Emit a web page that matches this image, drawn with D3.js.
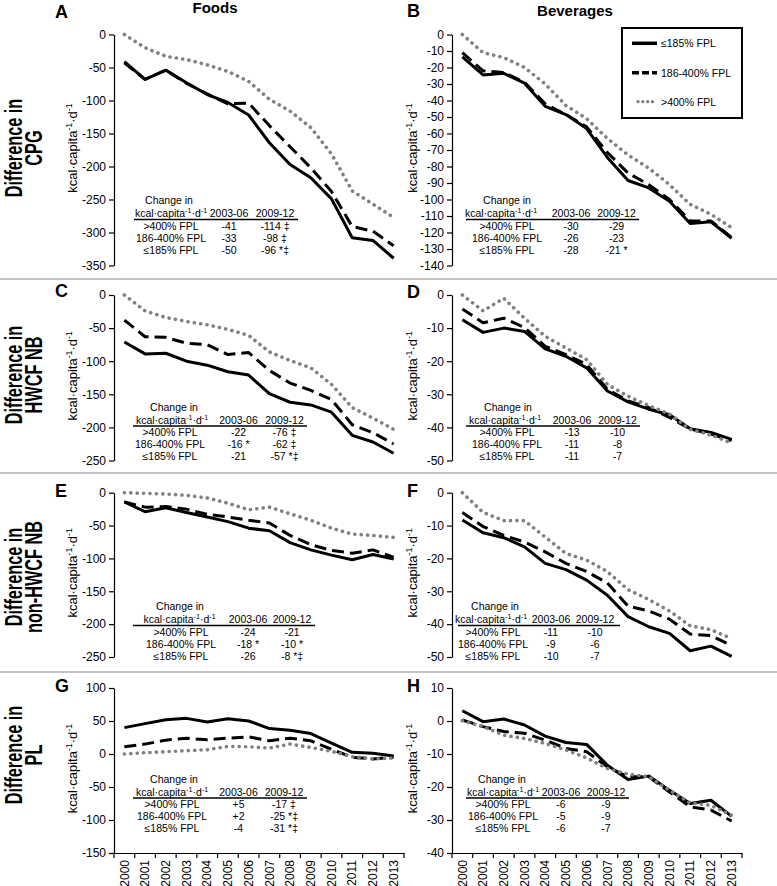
<!DOCTYPE html>
<html><head><meta charset="utf-8">
<script src="https://cdn.jsdelivr.net/npm/d3@7"></script>
<style>
body{margin:0;background:#fff}
svg{display:block}
text{font-family:"Liberation Sans",Arial,sans-serif;fill:#000}
</style>
</head><body>
<svg id="chart" width="777" height="886"></svg>
<script>
// ---------------- DATA ----------------
const years = [2000,2001,2002,2003,2004,2005,2006,2007,2008,2009,2010,2011,2012,2013];
const seriesNames = ["≤185% FPL","186-400% FPL",">400% FPL"];
const columnTitles = ["Foods","Beverages"];
const rowTitles = [["Difference in","CPG"],["Difference in","HWCF NB"],["Difference in","non-HWCF NB"],["Difference in","PL"]];
const panelLetters = ["A","B","C","D","E","F","G","H"];

// A: Foods, CPG
const foodsCpgLow  = [-41,-68,-54,-73,-91,-103,-122,-164,-197,-217,-249,-308,-312,-339];
const foodsCpgMid  = [-43,-68,-54,-74,-90,-105,-104,-138,-170,-202,-238,-291,-298,-320];
const foodsCpgHigh = [0,-20,-33,-38,-46,-56,-71,-98,-116,-141,-181,-237,-257,-277];
// B: Beverages, CPG
const bevCpgLow  = [-13.5,-24.5,-23.5,-29.5,-43.5,-48.5,-57,-74.5,-88.5,-93,-101,-114.5,-113.5,-123.5];
const bevCpgMid  = [-11,-22,-23,-29,-42,-48.5,-56,-71.5,-84,-91,-100,-113,-113,-123];
const bevCpgHigh = [0,-11,-14,-20,-30,-43,-51,-63,-73,-81,-91,-103,-109,-117];
// C: Foods, HWCF NB
const foodsHwLow  = [-71,-89,-88,-100,-106,-116,-121,-149,-162,-166,-177,-212,-222,-239];
const foodsHwMid  = [-38,-63,-64,-73,-75,-90,-87,-114,-133,-144,-158,-196,-208,-225];
const foodsHwHigh = [0,-24,-34,-40,-45,-52,-61,-86,-99,-110,-135,-170,-186,-203];
// D: Beverages, HWCF NB
const bevHwLow  = [-7.5,-11.3,-10,-11,-16.3,-18.5,-22,-29,-32.3,-34.5,-36.2,-40.4,-41.5,-43.6];
const bevHwMid  = [-4.2,-8.4,-7,-9.8,-15.5,-18,-21,-28.5,-32,-34,-37,-40.5,-42,-44];
const bevHwHigh = [0,-4.8,-1,-7,-12.5,-16,-19.5,-27,-30.6,-33.4,-36,-40.6,-42.3,-44.7];
// E: Foods, non-HWCF NB
const foodsNonLow  = [-14,-29,-23,-30,-37,-44,-54,-58,-76,-87,-95,-102,-94,-101];
const foodsNonMid  = [-14,-22,-21,-25,-33,-37,-42,-46,-65,-79,-88,-92,-87,-98];
const foodsNonHigh = [0,-1,-2,-4,-8,-16,-26,-22,-32,-42,-54,-63,-65,-68];
// F: Beverages, non-HWCF NB
const bevNonLow  = [-8.3,-12.2,-13.7,-16.5,-21.5,-23.4,-26.6,-31.2,-37.7,-40.8,-42.8,-48.1,-46.7,-49.8];
const bevNonMid  = [-6,-10.3,-13,-15,-18,-21.5,-24,-27.5,-34.5,-36,-38.5,-43,-43.5,-46.5];
const bevNonHigh = [0,-6,-8.5,-8.5,-13.5,-18.5,-20.5,-24,-29.5,-32.5,-36,-40.5,-41.7,-44.4];
// G: Foods, PL
const plFoodsLow  = [40,46,52,54,48.5,53.5,50,38.5,36,31,16.5,2.5,1,-3];
const plFoodsMid  = [11,15,21,24,21.5,24,26,20,24,20,7,-5,-7.5,-5];
const plFoodsHigh = [0,2,3.5,5,6.5,11.5,11,9,15,10,4,-4,-7.5,-6];
// H: Beverages, PL
const plBevLow  = [3.1,-0.2,0.6,-1.2,-4.6,-6.5,-7.1,-13.4,-17.7,-16.7,-21,-25,-24,-28.9];
const plBevMid  = [0.3,-1.7,-3.2,-3.7,-5.8,-8.3,-9.3,-13.9,-16.9,-16.9,-21.5,-26,-27,-30.3];
const plBevHigh = [0.1,-1.7,-4.3,-5.3,-6.8,-8.8,-11.2,-14.4,-16.1,-16.9,-21,-24.8,-25.6,-28.6];

// y tick labels
const ticksA = [0,-50,-100,-150,-200,-250,-300,-350];
const ticksB = [0,-10,-20,-30,-40,-50,-60,-70,-80,-90,-100,-110,-120,-130,-140];
const ticksC = [0,-50,-100,-150,-200,-250];
const ticksD = [0,-10,-20,-30,-40,-50];
const ticksE = [0,-50,-100,-150,-200,-250];
const ticksF = [0,-10,-20,-30,-40,-50];
const ticksG = [100,50,0,-50,-100,-150];
const ticksH = [10,0,-10,-20,-30,-40];

// inset tables
const tableHeader = ["Change in","2003-06","2009-12"];
const tableRows = [">400% FPL","186-400% FPL","≤185% FPL"];
const tabA0306 = ["-41","-33","-50"],   tabA0912 = ["-114 ‡","-98 ‡","-96 *‡"];
const tabB0306 = ["-30","-26","-28"],   tabB0912 = ["-29","-23","-21 *"];
const tabC0306 = ["-22","-16 *","-21"], tabC0912 = ["-76 ‡","-62 ‡","-57 *‡"];
const tabD0306 = ["-13","-11","-11"],   tabD0912 = ["-10","-8","-7"];
const tabE0306 = ["-24","-18 *","-26"], tabE0912 = ["-21","-10 *","-8 *‡"];
const tabF0306 = ["-11","-9","-10"],    tabF0912 = ["-10","-6","-7"];
const tabG0306 = ["+5","+2","-4"],      tabG0912 = ["-17 ‡","-25 *‡","-31 *‡"];
const tabH0306 = ["-6","-5","-6"],      tabH0912 = ["-9","-9","-7"];

// ---------------- LAYOUT ----------------
const colRange = [[114,404],[452,742]];
const rowRange = [[34.5,265.5],[295,460.5],[492.7,657],[688,853]];
const seriesStyle = [
  {stroke:"#000", width:3, dash:null, cap:"butt"},
  {stroke:"#000", width:3, dash:"12,6", cap:"butt"},
  {stroke:"#808080", width:3.6, dash:"0.1,6.3", cap:"round"}
];

const panels = [
  {col:0,row:0,ticks:ticksA,series:[foodsCpgLow,foodsCpgMid,foodsCpgHigh],t1:tabA0306,t2:tabA0912,
   tab:{cy:204,x0:134,x1:298,chX:169,kX:171,lX:171,c1:229,c2:275}},
  {col:1,row:0,ticks:ticksB,series:[bevCpgLow,bevCpgMid,bevCpgHigh],t1:tabB0306,t2:tabB0912,
   tab:{cy:204,x0:466,x1:639,chX:507,kX:501,lX:507,c1:571,c2:616.5}},
  {col:0,row:1,ticks:ticksC,series:[foodsHwLow,foodsHwMid,foodsHwHigh],t1:tabC0306,t2:tabC0912,
   tab:{cy:410.5,x0:133,x1:307,chX:174,kX:172,lX:170,c1:238.5,c2:284.5}},
  {col:1,row:1,ticks:ticksD,series:[bevHwLow,bevHwMid,bevHwHigh],t1:tabD0306,t2:tabD0912,
   tab:{cy:410.5,x0:466,x1:640,chX:508,kX:505,lX:507,c1:572,c2:617.5}},
  {col:0,row:2,ticks:ticksE,series:[foodsNonLow,foodsNonMid,foodsNonHigh],t1:tabE0306,t2:tabE0912,
   tab:{cy:610,x0:133,x1:315,chX:180,kX:179.5,lX:181,c1:248,c2:292}},
  {col:1,row:2,ticks:ticksF,series:[bevNonLow,bevNonMid,bevNonHigh],t1:tabF0306,t2:tabF0912,
   tab:{cy:610,x0:458,x1:620,chX:495,kX:491,lX:493,c1:551,c2:595}},
  {col:0,row:3,ticks:ticksG,series:[plFoodsLow,plFoodsMid,plFoodsHigh],t1:tabG0306,t2:tabG0912,
   tab:{cy:782.5,x0:133,x1:307,chX:174,kX:172,lX:172,c1:238.5,c2:284}},
  {col:1,row:3,ticks:ticksH,series:[plBevLow,plBevMid,plBevHigh],t1:tabH0306,t2:tabH0912,
   tab:{cy:782.5,x0:466,x1:629,chX:502,kX:503,lX:503,c1:561,c2:606}}
];

// ---------------- DRAW ----------------
const svg = d3.select("#chart");
svg.append("rect").attr("width",777).attr("height",886).attr("fill","#fff");

function kcalLabel(sel, size){
  sel.append("tspan").text("kcal·capita");
  sel.append("tspan").attr("font-size", size*0.68).attr("dy", -size*0.38).text("-1");
  sel.append("tspan").attr("dy", size*0.38).text("·d");
  sel.append("tspan").attr("font-size", size*0.68).attr("dy", -size*0.38).text("-1");
}

// separators
[279, 473, 672].forEach(yy => {
  svg.append("line").attr("x1",0).attr("x2",777).attr("y1",yy).attr("y2",yy)
    .attr("stroke","#c4c4c4").attr("stroke-width",2);
});

// column titles
svg.append("text").attr("x",215).attr("y",13).attr("text-anchor","middle")
  .attr("font-size",15).attr("font-weight","bold").text(columnTitles[0]);
svg.append("text").attr("x",575).attr("y",15.5).attr("text-anchor","middle")
  .attr("font-size",15).attr("font-weight","bold").text(columnTitles[1]);

// row titles
const rowTitleCY = [148, 375, 577, 755];
rowTitles.forEach((lines, r) => {
  [21.5, 42].forEach((bx, li) => {
    svg.append("g").attr("transform", `translate(${bx},${rowTitleCY[r]}) rotate(-90) scale(1,1.42)`)
      .append("text").attr("text-anchor","middle").attr("font-size",16.3).attr("font-weight","bold")
      .text(lines[li]);
  });
});

// panel letters
const letterPos = [[55,18],[407,17],[55,297],[407,298],[55,497],[407,497],[55,692],[407,692]];
panelLetters.forEach((L,i) => {
  svg.append("text").attr("x",letterPos[i][0]).attr("y",letterPos[i][1])
    .attr("font-size",18).attr("font-weight","bold").text(L);
});

panels.forEach((p, pi) => {
  const [xl, xr] = colRange[p.col];
  const [yt, yb] = rowRange[p.row];
  const x = d3.scaleBand().domain(years).range([xl, xr]).paddingInner(0).paddingOuter(0);
  const y = d3.scaleLinear().domain([d3.min(p.ticks), d3.max(p.ticks)]).range([yb, yt]);
  const g = svg.append("g");

  // y axis
  const ax = g.append("g").attr("transform", `translate(${xl},0)`)
    .call(d3.axisLeft(y).tickValues(p.ticks).tickFormat(d => String(d))
      .tickSize(5).tickSizeOuter(0).tickPadding(3));
  ax.select(".domain").attr("stroke","#000").attr("stroke-width",1.2);
  ax.selectAll(".tick line").attr("stroke","#000").attr("stroke-width",1.2);
  ax.selectAll(".tick text").attr("font-size",12).attr("font-family",'"Liberation Sans",Arial,sans-serif').attr("fill","#000");

  // y title
  const tx = p.col === 0 ? 77 : 416.5;
  const yt2 = g.append("text").attr("transform", `translate(${tx},${(yt+yb)/2 - 2}) rotate(-90)`)
    .attr("text-anchor","middle").attr("font-size",13);
  kcalLabel(yt2, 13);

  // x axis (bottom row only)
  if (p.row === 3) {
    const xa = g.append("g").attr("transform", `translate(0,${yb})`)
      .call(d3.axisBottom(x).tickSize(0).tickSizeOuter(0).tickFormat(d => String(d)));
    xa.select(".domain").attr("stroke","#000").attr("stroke-width",1.2);
    xa.selectAll(".tick text").attr("font-size",12).attr("font-family",'"Liberation Sans",Arial,sans-serif')
      .attr("fill","#000").attr("text-anchor","end")
      .attr("transform","rotate(-90)").attr("x",-7).attr("y",0).attr("dy","0.35em");
    const bounds = years.map(d => x(d)).concat([x(years[years.length-1]) + x.bandwidth()]);
    g.selectAll(".btick").data(bounds).enter().append("line")
      .attr("x1", d => d).attr("x2", d => d).attr("y1", yb).attr("y2", yb + 5)
      .attr("stroke","#000").attr("stroke-width",1.2);
  }

  // lines
  const line = d3.line().x((d,i) => x(years[i]) + x.bandwidth()/2).y(d => y(d)).curve(d3.curveLinear);
  p.series.forEach((s, si) => {
    const st = seriesStyle[si];
    g.append("path").datum(s).attr("d", line).attr("fill","none")
      .attr("stroke", st.stroke).attr("stroke-width", st.width)
      .attr("stroke-dasharray", st.dash).attr("stroke-linecap", st.cap)
      .attr("stroke-linejoin","round");
  });

  // inset table
  const t = p.tab, fs = 10.5;
  const tg = g.append("g").attr("font-size", fs);
  tg.append("text").attr("x", t.chX).attr("y", t.cy).attr("text-anchor","middle").text(tableHeader[0]);
  const kt = tg.append("text").attr("x", t.kX).attr("y", t.cy + 13).attr("text-anchor","middle");
  kcalLabel(kt, fs);
  tg.append("text").attr("x", t.c1).attr("y", t.cy + 13).attr("text-anchor","middle").text(tableHeader[1]);
  tg.append("text").attr("x", t.c2).attr("y", t.cy + 13).attr("text-anchor","middle").text(tableHeader[2]);
  tg.append("line").attr("x1", t.x0).attr("x2", t.x1).attr("y1", t.cy + 15.5).attr("y2", t.cy + 15.5)
    .attr("stroke","#000").attr("stroke-width",1.5);
  tableRows.forEach((lab, ri) => {
    const ry = t.cy + 25.5 + 12 * ri;
    tg.append("text").attr("x", t.lX).attr("y", ry).attr("text-anchor","middle").text(lab);
    tg.append("text").attr("x", t.c1).attr("y", ry).attr("text-anchor","middle").text(p.t1[ri]);
    tg.append("text").attr("x", t.c2).attr("y", ry).attr("text-anchor","middle").text(p.t2[ri]);
  });
});

// legend
const lg = svg.append("g");
lg.append("rect").attr("x",622).attr("y",28).attr("width",120).attr("height",90)
  .attr("fill","#fff").attr("stroke","#000").attr("stroke-width",2);
const legY = [43.3, 72.7, 101.7];
const legStyle = [
  {x1:632,x2:657,dash:null,w:3.5,cap:"butt",stroke:"#000"},
  {x1:632,x2:657,dash:"7,3",w:3.5,cap:"butt",stroke:"#000"},
  {x1:638,x2:657,dash:"0.1,4.7",w:3.2,cap:"round",stroke:"#808080"}
];
seriesNames.forEach((nm, i) => {
  const s = legStyle[i];
  lg.append("line").attr("x1", s.x1).attr("x2", s.x2).attr("y1", legY[i]).attr("y2", legY[i])
    .attr("stroke", s.stroke).attr("stroke-width", s.w).attr("stroke-dasharray", s.dash)
    .attr("stroke-linecap", s.cap);
  lg.append("text").attr("x", 661).attr("y", legY[i] + 4).attr("font-size", 10.5).text(nm);
});
</script>
</body></html>
